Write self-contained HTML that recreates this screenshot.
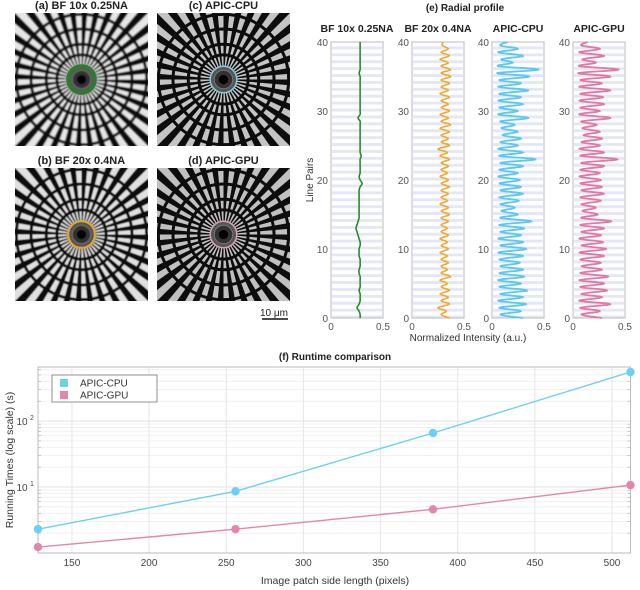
<!DOCTYPE html>
<html><head><meta charset="utf-8"><style>
body{margin:0;background:#fff;font-family:"Liberation Sans",sans-serif;}
svg{display:block}
text{font-family:"Liberation Sans",sans-serif}
</style></head><body>
<svg id="fig" width="640" height="590" viewBox="0 0 640 590" xmlns="http://www.w3.org/2000/svg">
<defs>
<filter id="blur2" x="-5%" y="-5%" width="110%" height="110%"><feGaussianBlur stdDeviation="0.9"/></filter>
<filter id="blur1" x="-5%" y="-5%" width="110%" height="110%"><feGaussianBlur stdDeviation="0.6"/></filter>
<filter id="blur0" x="-5%" y="-5%" width="110%" height="110%"><feGaussianBlur stdDeviation="0.3"/></filter>
</defs>
<g id="stars"></g>
<g id="radial"></g>
<g id="runtime"></g>
</svg>
<script>
// ---------- Radial profile data (value at line pair = index*0.5) ----------
const bf10 = [0.28,0.28,0.27,0.25,0.27,0.28,0.28,0.28,0.27,0.28,0.28,0.28,0.28,0.27,0.27,0.28,0.28,0.28,0.27,0.27,0.27,0.28,0.28,0.27,0.26,0.25,0.24,0.25,0.26,0.27,0.27,0.27,0.27,0.27,0.27,0.27,0.27,0.27,0.28,0.30,0.28,0.27,0.28,0.28,0.28,0.28,0.28,0.29,0.28,0.28,0.28,0.28,0.28,0.28,0.28,0.28,0.28,0.28,0.26,0.28,0.28,0.28,0.28,0.28,0.28,0.28,0.28,0.28,0.28,0.28,0.28,0.27,0.28,0.28,0.28,0.28,0.28,0.28,0.28,0.28,0.28];
const bf20 = [0.36,0.28,0.33,0.25,0.36,0.28,0.35,0.27,0.36,0.28,0.34,0.27,0.37,0.28,0.34,0.28,0.35,0.28,0.34,0.27,0.35,0.28,0.34,0.27,0.35,0.28,0.34,0.28,0.35,0.28,0.36,0.28,0.35,0.27,0.34,0.28,0.35,0.28,0.36,0.28,0.35,0.27,0.34,0.28,0.35,0.28,0.36,0.27,0.34,0.25,0.36,0.28,0.35,0.28,0.36,0.27,0.37,0.28,0.35,0.27,0.36,0.28,0.35,0.28,0.36,0.27,0.35,0.28,0.36,0.28,0.37,0.28,0.37,0.28,0.35,0.27,0.36,0.28,0.35,0.29,0.30];
const cpu = [0.30,0.08,0.28,0.07,0.33,0.06,0.30,0.08,0.34,0.07,0.28,0.06,0.31,0.07,0.30,0.08,0.27,0.07,0.30,0.06,0.33,0.08,0.30,0.06,0.28,0.08,0.31,0.07,0.38,0.08,0.25,0.09,0.22,0.08,0.26,0.07,0.30,0.08,0.28,0.07,0.27,0.06,0.25,0.07,0.30,0.08,0.42,0.07,0.30,0.06,0.25,0.08,0.28,0.10,0.25,0.09,0.22,0.08,0.35,0.06,0.25,0.07,0.30,0.06,0.28,0.07,0.35,0.06,0.28,0.07,0.36,0.05,0.45,0.06,0.20,0.09,0.30,0.06,0.25,0.08,0.15];
const gpu = [0.28,0.08,0.26,0.07,0.36,0.06,0.28,0.08,0.33,0.07,0.30,0.06,0.34,0.07,0.28,0.08,0.27,0.07,0.30,0.06,0.32,0.08,0.29,0.06,0.27,0.08,0.30,0.07,0.37,0.08,0.24,0.09,0.22,0.08,0.27,0.07,0.30,0.08,0.28,0.07,0.27,0.06,0.26,0.07,0.30,0.08,0.43,0.07,0.30,0.06,0.26,0.08,0.28,0.10,0.26,0.09,0.23,0.08,0.36,0.06,0.26,0.07,0.30,0.06,0.29,0.07,0.36,0.06,0.28,0.07,0.36,0.05,0.44,0.06,0.22,0.09,0.30,0.06,0.26,0.08,0.14];
const profileTitles = ["BF 10x 0.25NA","BF 20x 0.4NA","APIC-CPU","APIC-GPU"];
const yTicksLP = [0,10,20,30,40];
const xTicksI = [0,0.5];

// ---------- Runtime data ----------
const sizes = [128,256,384,512];
const cpuTimes = [2.3,8.6,66,555];
const gpuTimes = [1.23,2.3,4.6,10.7];
const xTicksR = [150,200,250,300,350,400,450,500];

const NS="http://www.w3.org/2000/svg";
function mk(parent,tag,attrs,text){const e=document.createElementNS(NS,tag);for(const k in attrs)e.setAttribute(k,attrs[k]);if(text!==undefined)e.textContent=text;parent.appendChild(e);return e;}

// ---------- Star images ----------
const starsG=document.getElementById('stars');
const starDefs=[
 {x:15,y:13,t:"(a) BF 10x 0.25NA",c:"#2f7a2f",w:4,f:"blur2",bg:"#e6e6e6",n:"image-bf10x"},
 {x:157,y:13,t:"(c) APIC-CPU",c:"#7fd0e8",w:1.5,f:"blur0",bg:"#c4c4c4",n:"image-apic-cpu"},
 {x:15,y:168,t:"(b) BF 20x 0.4NA",c:"#e8a52a",w:2,f:"blur1",bg:"#e0e0e0",n:"image-bf20x"},
 {x:157,y:168,t:"(d) APIC-GPU",c:"#e0a0b8",w:1.5,f:"blur0",bg:"#c0c0c0",n:"image-apic-gpu"}];
starDefs.forEach((d,i)=>{
  const S=133,cx=d.x+S/2,cy=d.y+S/2,R=S/2;
  const g=mk(starsG,'g',{});
  
  
  const cp=mk(g,'clipPath',{id:'cp'+i});
  mk(cp,'rect',{x:d.x,y:d.y,width:S,height:S});
  const inner=mk(g,'g',{'clip-path':'url(#cp'+i+')'});
  const img=mk(inner,'g',{filter:'url(#'+d.f+')'});
  mk(img,'rect',{x:d.x-5,y:d.y-5,width:S+10,height:S+10,fill:d.bg});
  const N=36,L=R*1.6;
  let p='';
  for(let k=0;k<N;k++){const a0=(k/N)*2*Math.PI,a1=((k+0.5)/N)*2*Math.PI;
    p+=`M${cx},${cy}L${cx+L*Math.cos(a0)},${cy+L*Math.sin(a0)}L${cx+L*Math.cos(a1)},${cy+L*Math.sin(a1)}Z`;}
  mk(img,'path',{d:p,fill:'#0a0a0a'});
  [0.98,0.76,0.53,0.37].forEach(r=>mk(img,'circle',{cx,cy,r:R*r,fill:'none',stroke:'#0a0a0a','stroke-width':3}));
  mk(img,'circle',{cx,cy,r:R*0.2,fill:'#555'});
  mk(img,'circle',{cx,cy,r:R*0.14,fill:'#333',stroke:'#777','stroke-width':1});
  mk(img,'circle',{cx,cy,r:R*0.07,fill:'#000'});
  mk(g,'circle',{cx,cy,r:R*0.2,fill:'none',stroke:d.c,'stroke-width':d.w});
  const t=mk(starsG,'text',{x:cx,y:d.y-4,'text-anchor':'middle','font-size':11,'font-weight':'bold',fill:'#222'},d.t);
  
  
});
const sb=mk(starsG,'text',{x:274,y:316,'text-anchor':'middle','font-size':10,fill:'#222'},'10 μm');


const sbl=mk(starsG,'line',{x1:262,x2:288,y1:319,y2:319,stroke:'#111','stroke-width':1.5});



// ---------- Radial profile ----------
const rg=document.getElementById('radial');
const panelX=[331,412,492,573],PW=52,PT=42,PB=318;
const series=[bf10,bf20,cpu,gpu],cols=['#2a8a2a','#f0a830','#5cc8ef','#e07aa4'];
const yLP=v=>PB-(v/40)*(PB-PT);
const t0=mk(rg,'text',{x:465,y:11,'text-anchor':'middle','font-size':10,'font-weight':'bold',fill:'#222'},'(e) Radial profile');


panelX.forEach((px,i)=>{
  const xI=v=>px+(v/0.5)*PW;
  const g=mk(rg,'g',{});
  
  
  mk(g,'rect',{x:px,y:PT,width:PW,height:PB-PT,fill:'#fff'});
  for(let k=0;k<80;k+=2){mk(g,'rect',{x:px+1,y:yLP(k/2+0.5)+1,width:PW-2,height:(PB-PT)/80-0.5,fill:'#e4e8f6'});}
  mk(g,'rect',{x:px,y:PT,width:PW,height:PB-PT,fill:'none',stroke:'#bbb','stroke-width':1});
  const s=series[i];
  const pts=s.map((v,k)=>[xI(v),yLP(k*0.5)]);
  let d=`M${pts[0][0]},${pts[0][1]}`;
  for(let k=0;k<pts.length-1;k++){const p0=pts[Math.max(0,k-1)],p1=pts[k],p2=pts[k+1],p3=pts[Math.min(pts.length-1,k+2)];
    d+=`C${p1[0]+(p2[0]-p0[0])/6},${p1[1]+(p2[1]-p0[1])/6} ${p2[0]-(p3[0]-p1[0])/6},${p2[1]-(p3[1]-p1[1])/6} ${p2[0]},${p2[1]}`;}
  const ln=mk(g,'path',{d,fill:'none',stroke:cols[i],'stroke-width':i<2?1.6:1.8});
  
  
  yTicksLP.forEach(v=>{const t=mk(g,'text',{x:px-3,y:yLP(v)+4,'text-anchor':'end','font-size':10,fill:'#555'},v);
    
    });
  xTicksI.forEach(v=>{const t=mk(g,'text',{x:xI(v),y:PB+12,'text-anchor':'middle','font-size':10,fill:'#555'},v);
    
    });
  const tt=mk(g,'text',{x:px+PW/2,y:32,'text-anchor':'middle','font-size':10.5,'font-weight':'bold',fill:'#222'},profileTitles[i]);
  
  
});
const lpl=mk(rg,'text',{x:313,y:180,'text-anchor':'middle','font-size':10,fill:'#333',transform:'rotate(-90 313 180)'},'Line Pairs');


const nil=mk(rg,'text',{x:468,y:341,'text-anchor':'middle','font-size':10,fill:'#333'},'Normalized  Intensity (a.u.)');



// ---------- Runtime chart ----------
const G=document.getElementById('runtime');
const L=38,Rr=630.5,T=367,B=553,logMax=2.82;
const xR=v=>L+(v-128)/(512-128)*(Rr-L);
const yR=v=>B-(Math.log10(v)/logMax)*(B-T);
const tt=mk(G,'text',{x:335,y:360,'text-anchor':'middle','font-size':10,'font-weight':'bold',fill:'#222'},'(f) Runtime comparison');


mk(G,'rect',{x:L,y:T,width:Rr-L,height:B-T,fill:'#fff'});
for(let dec=0;dec<3;dec++)for(let m=2;m<=9;m++){const v=m*Math.pow(10,dec);if(Math.log10(v)>logMax)continue;
  mk(G,'line',{x1:L,x2:Rr,y1:yR(v),y2:yR(v),stroke:'#f0f0f0','stroke-width':1});
  mk(G,'line',{x1:Rr-3,x2:Rr,y1:yR(v),y2:yR(v),stroke:'#aaa','stroke-width':0.6});
  mk(G,'line',{x1:L,x2:L+3,y1:yR(v),y2:yR(v),stroke:'#aaa','stroke-width':0.6});}
[10,100].forEach(v=>mk(G,'line',{x1:L,x2:Rr,y1:yR(v),y2:yR(v),stroke:'#e2e2e2','stroke-width':1}));
xTicksR.forEach(v=>{mk(G,'line',{x1:xR(v),x2:xR(v),y1:T,y2:B,stroke:'#e6e6e6','stroke-width':1});
  const t=mk(G,'text',{x:xR(v),y:B+13,'text-anchor':'middle','font-size':10,fill:'#444'},v);
  
  });
mk(G,'rect',{x:L,y:T,width:Rr-L,height:B-T,fill:'none',stroke:'#bbb','stroke-width':1});
[[10,'1'],[100,'2']].forEach(([v,e])=>{const t=mk(G,'text',{x:L-16,y:yR(v)+4,'text-anchor':'middle','font-size':10,fill:'#444'},'10');
  
  
  mk(G,'text',{x:L-6,y:yR(v)-1,'text-anchor':'middle','font-size':7,fill:'#444'},e);});
const yl=mk(G,'text',{x:13,y:460,'text-anchor':'middle','font-size':10.5,fill:'#333',transform:'rotate(-90 13 460)'},'Running Times (log scale) (s)');


const xl=mk(G,'text',{x:335,y:584,'text-anchor':'middle','font-size':10.5,fill:'#333'},'Image patch side length (pixels)');


[[cpuTimes,'#6cd0f2','cpu'],[gpuTimes,'#e485ad','gpu']].forEach(([arr,c,n])=>{
  const d=arr.map((v,k)=>(k?'L':'M')+xR(sizes[k])+','+yR(v)).join('');
  const p=mk(G,'path',{d,fill:'none',stroke:c,'stroke-width':1.4});
  
  
  arr.forEach((v,k)=>{const pt=mk(G,'circle',{cx:xR(sizes[k]),cy:yR(v),r:4.2,fill:c});
    
    });
});
const lg=mk(G,'g',{});


mk(lg,'rect',{x:52,y:375,width:105,height:27,fill:'#fff',stroke:'#777','stroke-width':0.8});
mk(lg,'rect',{x:60,y:379,width:8,height:8,fill:'#6cd0f2'});
mk(lg,'rect',{x:60,y:391,width:8,height:8,fill:'#e485ad'});
const l1=mk(lg,'text',{x:80,y:386.5,'font-size':10,fill:'#333'},'APIC-CPU');


const l2=mk(lg,'text',{x:80,y:398.5,'font-size':10,fill:'#333'},'APIC-GPU');


</script>
</body></html>
